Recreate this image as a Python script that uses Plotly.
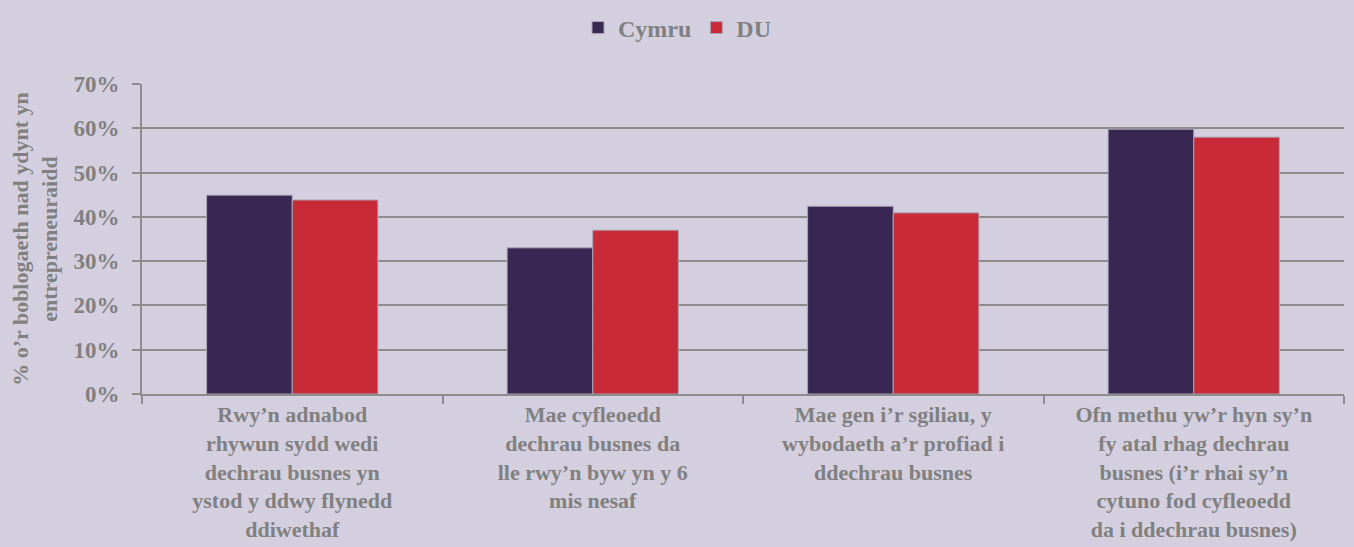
import plotly.graph_objects as go

categories = [
    "Rwy’n adnabod<br>rhywun sydd wedi<br>dechrau busnes yn<br>ystod y ddwy flynedd<br>ddiwethaf",
    "Mae cyfleoedd<br>dechrau busnes da<br>lle rwy’n byw yn y 6<br>mis nesaf",
    "Mae gen i’r sgiliau, y<br>wybodaeth a’r profiad i<br>ddechrau busnes",
    "Ofn methu yw’r hyn sy’n<br>fy atal rhag dechrau<br>busnes (i’r rhai sy’n<br>cytuno fod cyfleoedd<br>da i ddechrau busnes)",
]
cymru = [0.449, 0.330, 0.424, 0.598]
du = [0.438, 0.370, 0.409, 0.580]
series_names = ["Cymru", "DU"]
colors = ["#372752", "#c82a38"]
yticks = [0, 0.1, 0.2, 0.3, 0.4, 0.5, 0.6, 0.7]
ytext = ["0%", "10%", "20%", "30%", "40%", "50%", "60%", "70%"]

font_family = "Liberation Serif, DejaVu Serif, serif"
grey = "#808080"

fig = go.Figure()
for name, vals, col in zip(series_names, [cymru, du], colors):
    fig.add_trace(go.Bar(
        x=categories, y=vals, name=name,
        marker=dict(color=col, line=dict(color="#a9a4b4", width=1)),
    ))

fig.update_layout(
    width=1354, height=547,
    barmode="group", bargap=0.43, bargroupgap=0,
    paper_bgcolor="#d4cfdf", plot_bgcolor="#d4cfdf",
    margin=dict(l=142, r=10, t=84, b=153),
    font=dict(family=font_family, size=22, color=grey),
    legend=dict(orientation="h", x=0.5, xref="container", xanchor="center",
                y=0.99, yref="container", yanchor="top",
                font=dict(size=24, color=grey, family=font_family, weight="bold"),
                itemwidth=30, traceorder="normal", bgcolor="rgba(0,0,0,0)"),
    showlegend=True,
)
fig.update_xaxes(
    type="category", tickson="boundaries", ticks="outside", ticklen=8,
    tickcolor="#8c8c8c", tickwidth=2,
    showline=True, linecolor="#8c8c8c", linewidth=2,
    showgrid=False, automargin=False, ticklabelstandoff=0,
    tickfont=dict(size=22, color=grey, family=font_family, weight="bold"),
)
fig.update_yaxes(
    range=[0, 0.7], tickvals=yticks, ticktext=ytext,
    ticks="outside", ticklen=8, tickcolor="#8c8c8c", tickwidth=2,
    showline=True, linecolor="#8c8c8c", linewidth=2,
    showgrid=True, gridcolor="#8c8c8c", gridwidth=2,
    zeroline=False, ticklabelstandoff=8, automargin=False,
    tickfont=dict(size=23, color=grey, family=font_family, weight="bold"),
    title=dict(text="% o’r boblogaeth nad ydynt yn<br>entrepreneuraidd", standoff=10,
               font=dict(size=22, color=grey, family=font_family, weight="bold")),
)

fig.write_html("out.html", config={"displayModeBar": False},
               post_script="document.body.style.margin='0';document.body.style.overflow='hidden';")
